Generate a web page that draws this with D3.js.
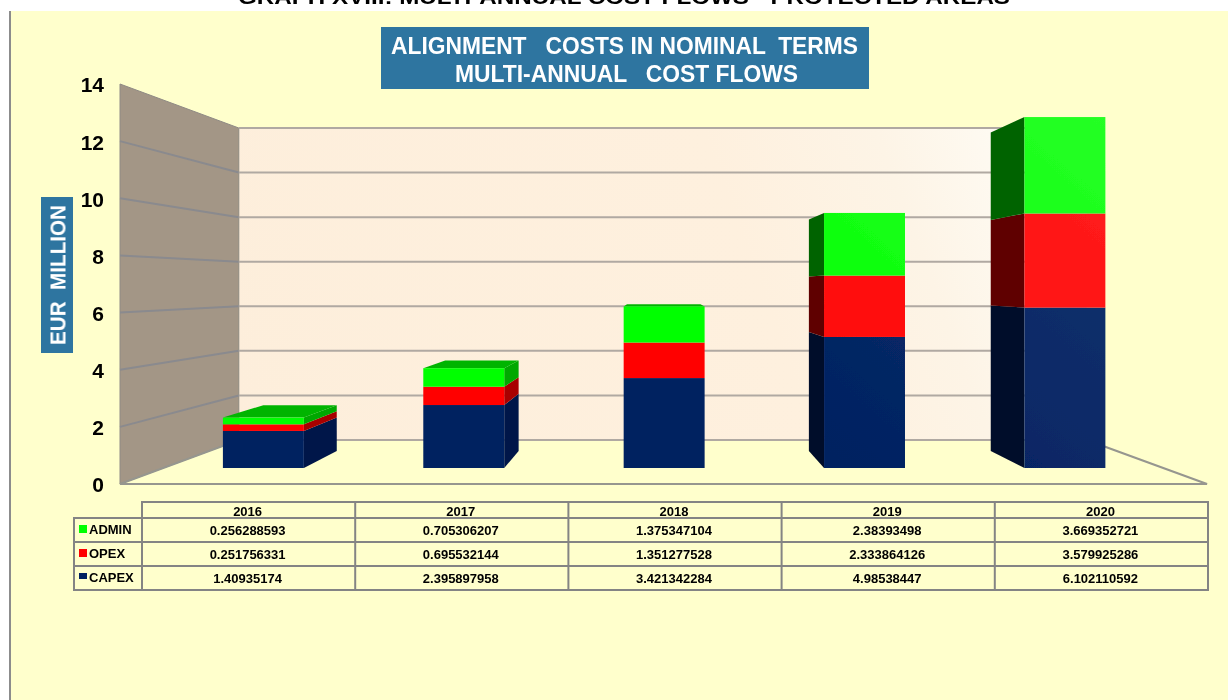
<!DOCTYPE html>
<html><head><meta charset="utf-8">
<script src="https://cdn.jsdelivr.net/npm/d3@7"></script>
<style>html,body{margin:0;padding:0;background:#fff;overflow:hidden}svg{display:block}
text{font-family:"Liberation Sans",Arial,sans-serif;font-weight:bold}</style></head>
<body><svg id="c" width="1228" height="700"></svg>
<script>
const years = ["2016","2017","2018","2019","2020"];
const capex = [1.40935174, 2.395897958, 3.421342284, 4.98538447, 6.102110592];
const opex  = [0.251756331, 0.695532144, 1.351277528, 2.333864126, 3.579925286];
const admin = [0.256288593, 0.705306207, 1.375347104, 2.38393498, 3.669352721];
const seriesNames = ["CAPEX","OPEX","ADMIN"];
const seriesColors = ["#002060","#FF0000","#00FF00"];
const yTicks = [0,2,4,6,8,10,12,14];
const tableRows = ["ADMIN","OPEX","CAPEX"];

const svg = d3.select("#c");
const defs = svg.append("defs");
function blur(id,sd){
  defs.append("filter").attr("id",id).attr("filterUnits","userSpaceOnUse")
    .attr("x",0).attr("y",-20).attr("width",1228).attr("height",740)
    .append("feGaussianBlur").attr("stdDeviation",sd);
}
blur("soft",0.5);
blur("softText",0.28);

function grad(id,x1,y1,x2,y2,stops){
  const g=defs.append("linearGradient").attr("id",id).attr("gradientUnits","userSpaceOnUse")
    .attr("x1",x1).attr("y1",y1).attr("x2",x2).attr("y2",y2);
  stops.forEach(s=>g.append("stop").attr("offset",s[0]).attr("stop-color",s[1]));
}
grad("wall",240,440,1087,128,[[0,"#FDEEDB"],[0.6,"#FEF0DE"],[0.78,"#FDF4E6"],[1,"#FFFFFB"]]);
grad("g0",800,468,1105,116,[[0,"#002060"],[1,"#14356F"]]);
grad("g1",800,468,1105,116,[[0,"#FF0000"],[1,"#FF2020"]]);
grad("g2",800,468,1105,116,[[0,"#00FF00"],[1,"#25FF25"]]);

// page background
svg.append("rect").attr("x",11).attr("y",11).attr("width",1217).attr("height",689).attr("fill","#FFFFCC");
svg.append("rect").attr("x",9).attr("y",11).attr("width",2).attr("height",689).attr("fill","#8C8C8C");

// clipped outer heading
svg.append("text").attr("x",624).attr("y",4).attr("text-anchor","middle").attr("filter","url(#softText)")
  .attr("font-size",21).attr("textLength",772).attr("lengthAdjust","spacingAndGlyphs").attr("fill","#000")
  .text("GRAPH XVIII: MULTI-ANNUAL COST FLOWS - PROTECTED AREAS");

// perspective projection: s=1 front of floor, s=0.78 back wall, vanishing point (660,284)
const VX=660, VY=284, BACK=0.78, BAR_F=0.92, BAR_B=0.835;
const y = d3.scaleLinear().domain([0,14]).range([484,84]);
const x = d3.scaleBand().domain(years).range([120,1209]).paddingInner(0.596).paddingOuter(0.298);
const P = (wx,v,s)=>[VX+(wx-VX)*s, VY+(y(v)-VY)*s];
const poly = pts=>"M"+pts.map(p=>p.join(",")).join("L")+"Z";

const plot = svg.append("g").attr("filter","url(#soft)");
// back wall, side wall
plot.append("path").attr("d",poly([P(120,0,BACK),P(1207,0,BACK),P(1207,14,BACK),P(120,14,BACK)])).attr("fill","url(#wall)");
plot.append("path").attr("d",poly([P(120,0,1),P(120,0,BACK),P(120,14,BACK),P(120,14,1)])).attr("fill","#A39686").attr("stroke","#8F8A84").attr("stroke-width",1);
// grid
yTicks.forEach(t=>{
  const a=P(120,t,1), b=P(120,t,BACK), c=P(1207,t,BACK);
  if(t>0 && t<14) plot.append("line").attr("x1",a[0]).attr("y1",a[1]).attr("x2",b[0]).attr("y2",b[1]).attr("stroke","#8A8A8E").attr("stroke-width",2);
  plot.append("line").attr("x1",b[0]).attr("y1",b[1]).attr("x2",c[0]).attr("y2",c[1]).attr("stroke","#B0A9A2").attr("stroke-width",2);
});
// floor outline
const f0=P(120,0,1), f1=P(1207,0,1), f2=P(1207,0,BACK), f3=P(120,0,BACK);
plot.append("path").attr("d","M"+[f3,f0,f1,f2].map(p=>p.join(",")).join("L"))
  .attr("fill","none").attr("stroke","#96968F").attr("stroke-width",2.2);

// stacked 3D bars
const rows = years.map((yr,i)=>({year:yr,CAPEX:capex[i],OPEX:opex[i],ADMIN:admin[i]}));
const stacked = d3.stack().keys(seriesNames)(rows);
const rightShade = ["#001848","#A80000","#00A800"];
const leftShade = ["#000E2A","#5E0000","#006400"];
const topShade = "#00B400";
const barLayer = plot.append("g");
years.forEach((yr,i)=>{
  const g = barLayer.append("g");
  const L=x(yr), R=x(yr)+x.bandwidth();
  stacked.forEach((layer,k)=>{
    const v0=layer[i][0], v1=layer[i][1];
    if(P(L,0,BAR_F)[0]>VX){
      g.append("path").attr("d",poly([P(L,v0,BAR_F),P(L,v0,BAR_B),P(L,v1,BAR_B),P(L,v1,BAR_F)])).attr("fill",leftShade[k]);
    }
    if(P(R,0,BAR_F)[0]<VX){
      g.append("path").attr("d",poly([P(R,v0,BAR_F),P(R,v0,BAR_B),P(R,v1,BAR_B),P(R,v1,BAR_F)])).attr("fill",rightShade[k]);
    }
  });
  const top=stacked[2][i][1];
  if(P(L,top,BAR_F)[1]>VY){
    g.append("path").attr("d",poly([P(L,top,BAR_F),P(L,top,BAR_B),P(R,top,BAR_B),P(R,top,BAR_F)])).attr("fill",topShade);
  }
  stacked.forEach((layer,k)=>{
    const a=P(L,layer[i][1],BAR_F), b=P(R,layer[i][0],BAR_F);
    g.append("rect").attr("x",a[0]).attr("y",a[1]).attr("width",b[0]-a[0]).attr("height",b[1]-a[1]).attr("fill",`url(#g${k})`);
  });
});

// y axis labels
const axisWrap = svg.append("g").attr("filter","url(#softText)");
const axis = axisWrap.append("g").attr("transform","translate(104,0)")
  .call(d3.axisLeft(y).tickValues(yTicks).tickSize(0).tickPadding(0).tickFormat(d3.format("d")));
axis.select(".domain").remove();
axis.selectAll("text").attr("font-size",21).attr("font-family","Liberation Sans").attr("font-weight","bold").attr("fill","#000").attr("dy","0.38em");

// title boxes
svg.append("rect").attr("x",381).attr("y",27).attr("width",488).attr("height",62).attr("fill","#2E75A0");
svg.append("rect").attr("x",41).attr("y",197).attr("width",32).attr("height",156).attr("fill","#2E75A0");
const titleLayer = svg.append("g").attr("filter","url(#softText)");
titleLayer.append("text").attr("x",624.5).attr("y",54).attr("text-anchor","middle").attr("fill","#fff").attr("font-size",24)
  .style("white-space","pre").attr("textLength",467).attr("lengthAdjust","spacingAndGlyphs")
  .text("ALIGNMENT   COSTS IN NOMINAL  TERMS");
titleLayer.append("text").attr("x",626.5).attr("y",81.5).attr("text-anchor","middle").attr("fill","#fff").attr("font-size",24)
  .style("white-space","pre").attr("textLength",343).attr("lengthAdjust","spacingAndGlyphs")
  .text("MULTI-ANNUAL   COST FLOWS");
titleLayer.append("text").attr("transform","translate(65.5,275) rotate(-90)").attr("text-anchor","middle").attr("fill","#fff")
  .attr("font-size",22).style("white-space","pre").attr("textLength",140).attr("lengthAdjust","spacingAndGlyphs").text("EUR  MILLION");

// data table
const tbl = svg.append("g");
const colX = d3.scaleBand().domain(years).range([142,1208]);
const rowY = d3.scaleBand().domain(tableRows).range([518,590]);
const GRID="#848484";
const hline=(x1,x2,yy)=>tbl.append("line").attr("x1",x1).attr("x2",x2).attr("y1",yy).attr("y2",yy).attr("stroke",GRID).attr("stroke-width",2);
const vline=(xx,y1,y2)=>tbl.append("line").attr("x1",xx).attr("x2",xx).attr("y1",y1).attr("y2",y2).attr("stroke",GRID).attr("stroke-width",2);
hline(141,1209,502);
hline(73,1209,518);
tableRows.forEach(r=>hline(73,1209,rowY(r)+rowY.bandwidth()));
vline(74,518,590);
vline(142,502,590);
years.forEach(yr=>vline(colX(yr)+colX.bandwidth(),502,590));
const valueOf={ADMIN:admin,OPEX:opex,CAPEX:capex};
const colorOf=d3.scaleOrdinal().domain(seriesNames).range(seriesColors);
const tblText = tbl.append("g").attr("filter","url(#softText)");
years.forEach((yr,i)=>{
  tblText.append("text").attr("x",colX(yr)+colX.bandwidth()/2-1).attr("y",515.5).attr("text-anchor","middle").attr("font-size",13).attr("fill","#000").text(yr);
  tableRows.forEach(r=>{
    tblText.append("text").attr("x",colX(yr)+colX.bandwidth()/2-1).attr("y",rowY(r)+rowY.bandwidth()/2+5)
      .attr("text-anchor","middle").attr("font-size",13).attr("fill","#000").text(String(valueOf[r][i]));
  });
});
tableRows.forEach(r=>{
  const c=rowY(r)+rowY.bandwidth()/2;
  tbl.append("rect").attr("x",79).attr("y",c-5).attr("width",8).attr("height",r==="CAPEX"?6:8).attr("fill",colorOf(r));
  tblText.append("text").attr("x",89).attr("y",c+4).attr("font-size",13).attr("fill","#000").text(r);
});
</script></body></html>
